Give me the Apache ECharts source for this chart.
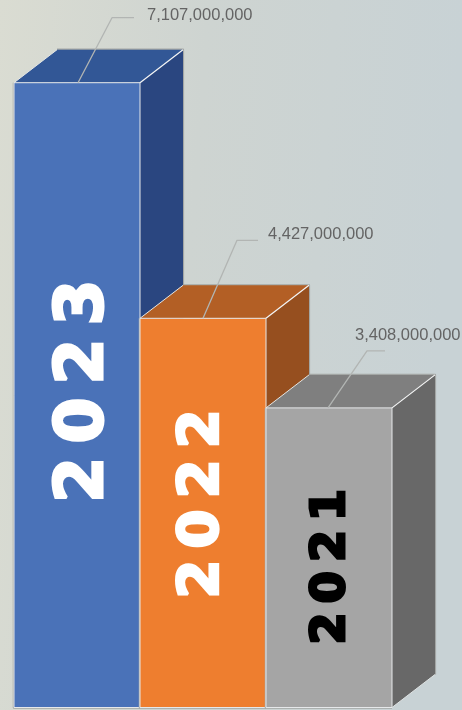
<!DOCTYPE html>
<html><head><meta charset="utf-8">
<style>html,body{margin:0;padding:0;background:#cfd5d2}#c{width:462px;height:710px}</style>
<script src="https://cdn.jsdelivr.net/npm/echarts@6/dist/echarts.min.js"></script>
</head><body><div id="c"></div>
<script>
const categories = ['2023', '2022', '2021'];
const values = [7107000000, 4427000000, 3408000000];
const valueLabels = ['7,107,000,000', '4,427,000,000', '3,408,000,000'];
const frontColors = ['#4a72b8', '#ee7e2f', '#a5a5a5'];
const topColors = ['#325796', '#b35f25', '#7f7f7f'];
const sideColors = ['#2a4680', '#964f1f', '#686868'];
const yearColors = ['#ffffff', '#ffffff', '#000000'];
const yearFontSizes = [66, 56, 46];
const yearOffsets = [[7.5, -4], [-1, -9], [3, 9]];
const leaderOffsets = [
  [[1, 0], [35, -65], [57, -65]],
  [[0, 0], [34, -78], [55, -78]],
  [[-1, 0], [38, -57], [56, -57]]
];
const labelOffsets = [[70, -67], [65, -84], [26, -72]];
const depthX = 43, depthY = 33;
const spaced = s => s.split('').join('\u200a\u200a');

function renderItem(params, api) {
  const i = params.dataIndex;
  const top = api.coord([api.value(0), api.value(1)]);
  const base = api.coord([api.value(0), 0]);
  const w = api.size([1, 0])[0];
  const l = top[0] - w / 2, r = top[0] + w / 2, t = top[1], b = base[1];
  const edge = (pts, stroke, lw) => ({
    type: 'polyline', shape: { points: pts },
    style: { fill: null, stroke: stroke, lineWidth: lw, lineJoin: 'round' }
  });
  const poly = (pts, fill) => ({
    type: 'polygon', shape: { points: pts }, style: { fill: fill, stroke: null }
  });
  const gray = '#a3a6a4';
  const children = [
    edge([[l + depthX, t - depthY], [r + depthX, t - depthY], [r + depthX, b - depthY]], gray, 2.2),
    edge([[l, t], [l, b], [r, b]], gray, 2.5),
    poly([[l, t], [l + depthX, t - depthY], [r + depthX, t - depthY], [r, t]], topColors[i]),
    poly([[r, t], [r + depthX, t - depthY], [r + depthX, b - depthY], [r, b]], sideColors[i]),
    {
      type: 'rect', shape: { x: l, y: t, width: w, height: b - t },
      style: { fill: frontColors[i], stroke: '#e6e8ea', lineWidth: 1 }
    },
    edge([[r, t], [r + depthX, t - depthY]], '#f4f5f5', 1.2),
    edge([[l, t], [l + depthX, t - depthY]], '#e4e6e4', 1),
    edge([[r, b], [r + depthX, b - depthY]], '#dfe3e3', 1),
    {
      type: 'text', x: top[0] + yearOffsets[i][0], y: (t + b) / 2 + yearOffsets[i][1],
      rotation: Math.PI / 2, originX: 0, originY: 0,
      style: {
        text: spaced(categories[i]), fill: yearColors[i], stroke: yearColors[i], lineWidth: 3,
        align: 'center', verticalAlign: 'middle',
        font: 'bold ' + yearFontSizes[i] + 'px "DejaVu Sans"'
      }
    },
    edge(leaderOffsets[i].map(p => [top[0] + p[0], t + p[1]]), '#b2b5b3', 1.3),
    {
      type: 'text', x: top[0] + labelOffsets[i][0], y: t + labelOffsets[i][1],
      style: {
        text: valueLabels[i], fill: '#646464', align: 'left', verticalAlign: 'middle',
        font: '16.5px "Liberation Sans"'
      }
    }
  ];
  return { type: 'group', children: children };
}

const chart = echarts.init(document.getElementById('c'), null, { renderer: 'canvas' });
chart.setOption({
  animation: false,
  backgroundColor: {
    type: 'linear', x: 0, y: 0, x2: 1, y2: 0.05,
    colorStops: [{ offset: 0, color: '#dadcd2' }, { offset: 0.45, color: '#ced4d1' }, { offset: 1, color: '#c8d2d5' }]
  },
  grid: { left: 14, width: 378, top: 4.2, height: 703.3 },
  xAxis: { type: 'category', data: categories, show: false },
  yAxis: { type: 'value', min: 0, max: 8000000000, show: false },
  series: [{
    type: 'custom', renderItem: renderItem, clip: false,
    data: categories.map((c, i) => [i, values[i]])
  }]
});
</script></body></html>
